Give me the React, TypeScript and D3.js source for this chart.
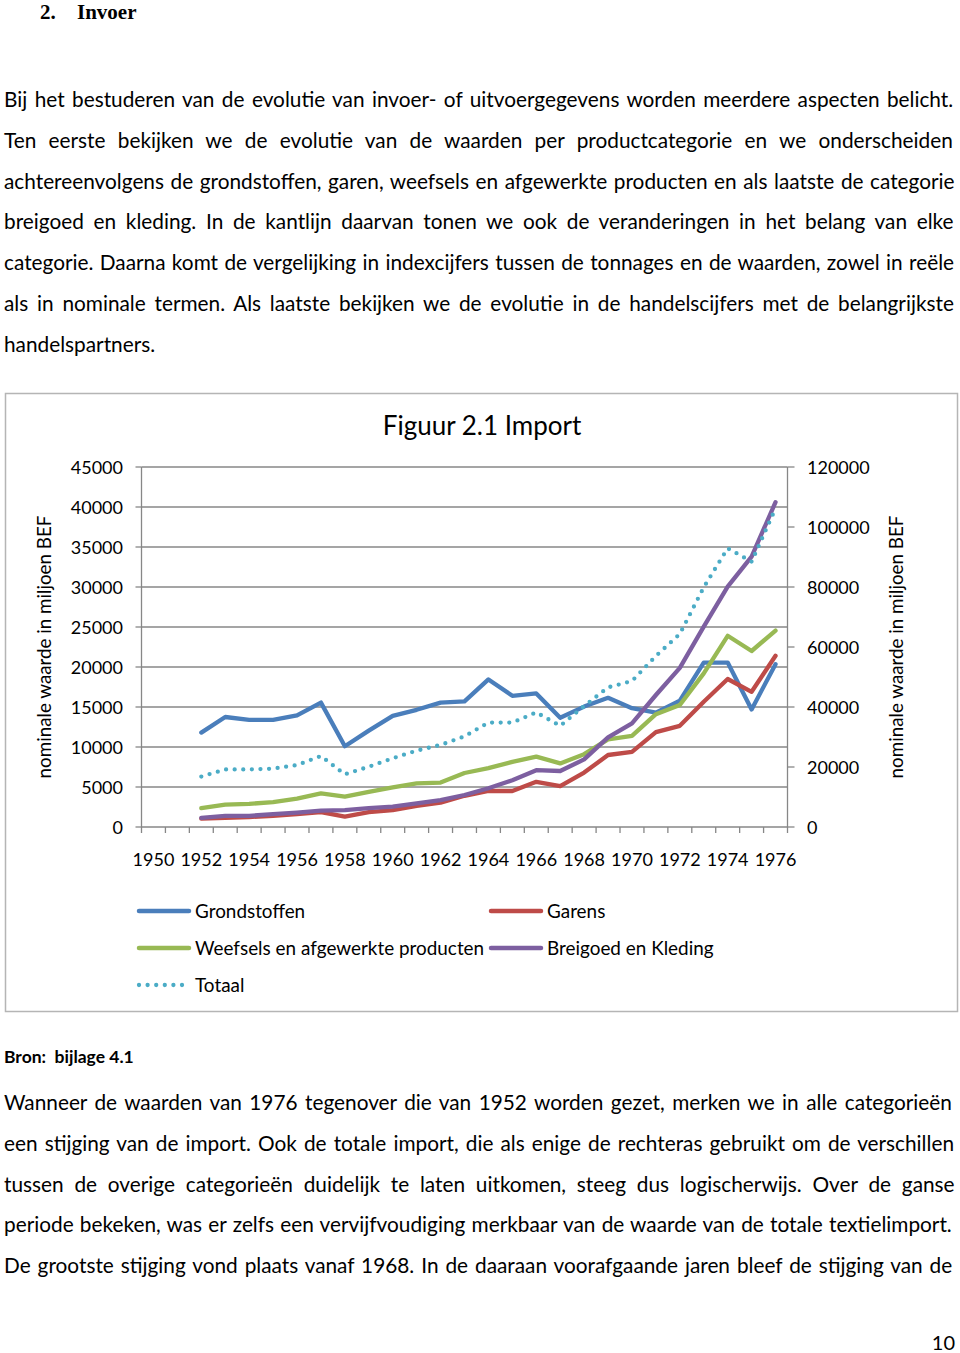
import React, { useMemo } from "react";
import * as d3 from "d3";

// ---------- DATA ----------
const categories = ["1950","1951","1952","1953","1954","1955","1956","1957","1958","1959","1960","1961","1962","1963","1964","1965","1966","1967","1968","1969","1970","1971","1972","1973","1974","1975","1976"];
const tickLabelYears = ["1950","1952","1954","1956","1958","1960","1962","1964","1966","1968","1970","1972","1974","1976"];
const dataYears = ["1952","1953","1954","1955","1956","1957","1958","1959","1960","1961","1962","1963","1964","1965","1966","1967","1968","1969","1970","1971","1972","1973","1974","1975","1976"];

const grondstoffen = [11800, 13750, 13400, 13400, 13950, 15550, 10100, 12050, 13900, 14650, 15550, 15700, 18450, 16400, 16700, 13650, 15050, 16150, 14850, 14300, 15800, 20550, 20550, 14700, 20350];
const garens = [1050, 1150, 1250, 1400, 1600, 1850, 1300, 1850, 2100, 2650, 3050, 3900, 4500, 4500, 5650, 5100, 6800, 9000, 9400, 11850, 12650, 15650, 18500, 16900, 21400];
const weefsels = [2350, 2800, 2900, 3100, 3550, 4200, 3800, 4400, 4950, 5450, 5550, 6750, 7350, 8150, 8800, 7950, 9100, 10950, 11400, 14100, 15250, 19200, 23900, 22000, 24550];
const breigoed = [1150, 1400, 1400, 1600, 1800, 2050, 2100, 2350, 2550, 2950, 3350, 4000, 4850, 5850, 7100, 7000, 8450, 11200, 12950, 16500, 19900, 25050, 30050, 33800, 40600];
const totaal = [16800, 19200, 19200, 19450, 20650, 23650, 17550, 20100, 22900, 25450, 27350, 30200, 34800, 34800, 38200, 33700, 40300, 46550, 48650, 57000, 64350, 79900, 92900, 88450, 106200];

const leftTicks = [0, 5000, 10000, 15000, 20000, 25000, 30000, 35000, 40000, 45000];
const rightTicks = [0, 20000, 40000, 60000, 80000, 100000, 120000];

const seriesNames = ["Grondstoffen", "Garens", "Weefsels en afgewerkte producten", "Breigoed en Kleding", "Totaal"];

const para1 = [
  "Bij het bestuderen van de evolutie van invoer- of uitvoergegevens worden meerdere aspecten belicht.",
  "Ten eerste bekijken we de evolutie van de waarden per productcategorie en we onderscheiden",
  "achtereenvolgens de grondstoffen, garen, weefsels en afgewerkte producten en als laatste de categorie",
  "breigoed en kleding. In de kantlijn daarvan tonen we ook de veranderingen in het belang van elke",
  "categorie. Daarna komt de vergelijking in indexcijfers tussen de tonnages en de waarden, zowel in reële",
  "als in nominale termen. Als laatste bekijken we de evolutie in de handelscijfers met de belangrijkste",
];
const para1Last = "handelspartners.";
const para2 = [
  "Wanneer de waarden van 1976 tegenover die van 1952 worden gezet, merken we in alle categorieën",
  "een stijging van de import. Ook de totale import, die als enige de rechteras gebruikt om de verschillen",
  "tussen de overige categorieën duidelijk te laten uitkomen, steeg dus logischerwijs. Over de ganse",
  "periode bekeken, was er zelfs een vervijfvoudiging merkbaar van de waarde van de totale textielimport.",
  "De grootste stijging vond plaats vanaf 1968. In de daaraan voorafgaande jaren bleef de stijging van de",
];

// ---------- STYLE ----------
const FONT = "Lato, 'Open Sans', sans-serif";
const BODY_SIZE = 20.8;
const colors = ["#4A7EBB", "#BE4B48", "#98B954", "#7D5FA0", "#4BACC6"];

let _ctx: CanvasRenderingContext2D | null = null;
function measure(text: string, font: string): number {
  if (!_ctx) {
    const c = document.createElement("canvas");
    _ctx = c.getContext("2d");
  }
  if (!_ctx) return text.length * 9;
  _ctx.font = font;
  return _ctx.measureText(text).width;
}

function wordSpacing(text: string, width: number, font: string): number {
  const spaces = (text.match(/ /g) || []).length;
  if (!spaces) return 0;
  const w = measure(text, font);
  return (width - w) / spaces;
}

export default function App() {
  const W = 960, H = 1353;
  const left = 141.5, right = 787.5, top = 467, bottom = 827;

  const x = d3.scaleBand<string>().domain(categories).range([left, right]).paddingInner(0).paddingOuter(0);
  const yL = d3.scaleLinear().domain([0, 45000]).range([bottom, top]);
  const yR = d3.scaleLinear().domain([0, 120000]).range([bottom, top]);
  const cx = (yr: string) => (x(yr) as number) + x.bandwidth() / 2;

  const lineL = d3.line<number>().x((_, i) => cx(dataYears[i])).y((d) => yL(d));
  const lineR = d3.line<number>().x((_, i) => cx(dataYears[i])).y((d) => yR(d));

  const bodyFont = `${BODY_SIZE}px Lato`;
  const textLeft = 4, textRight = 955;
  const spacings1 = useMemo(() => para1.map((t) => wordSpacing(t, textRight - textLeft, bodyFont)), []);
  const spacings2 = useMemo(() => para2.map((t) => wordSpacing(t, textRight - textLeft, bodyFont)), []);

  const leftSeries = [grondstoffen, garens, weefsels, breigoed];
  const gridColor = "#878787";

  const bandEdges = categories.map((c) => x(c) as number).concat([right]);

  return (
    <svg width={W} height={H} style={{ position: "absolute", left: 0, top: 0, background: "#fff" }} fontFamily={FONT}>
      <rect x={0} y={0} width={W} height={H} fill="#fff" />
      {/* Heading */}
      <text x={40} y={19} fontFamily="'Liberation Serif', serif" fontWeight="bold" fontSize={21}>2.</text>
      <text x={77} y={19} fontFamily="'Liberation Serif', serif" fontWeight="bold" fontSize={21}>Invoer</text>

      {/* Paragraph 1 */}
      {para1.map((t, i) => (
        <text key={"p1" + i} x={textLeft} y={107 + i * 40.8} fontSize={BODY_SIZE} style={{ wordSpacing: `${spacings1[i]}px` }}>{t}</text>
      ))}
      <text x={textLeft} y={107 + 6 * 40.8} fontSize={BODY_SIZE}>{para1Last}</text>

      {/* Chart frame */}
      <rect x={5.5} y={393.5} width={952} height={618} fill="#fff" stroke="#b5b5b5" strokeWidth={1.5} />
      <text x={482} y={435} textAnchor="middle" fontSize={26}>Figuur 2.1 Import</text>

      {/* Gridlines */}
      {leftTicks.map((t) => (
        <line key={"g" + t} x1={left} x2={right} y1={yL(t)} y2={yL(t)} stroke={gridColor} strokeWidth={1.3} />
      ))}
      {/* Axes */}
      <line x1={left} x2={left} y1={top} y2={bottom} stroke={gridColor} strokeWidth={1.3} />
      <line x1={right} x2={right} y1={top} y2={bottom} stroke={gridColor} strokeWidth={1.3} />
      {leftTicks.map((t) => (
        <line key={"lt" + t} x1={left - 6} x2={left} y1={yL(t)} y2={yL(t)} stroke={gridColor} strokeWidth={1.3} />
      ))}
      {rightTicks.map((t) => (
        <line key={"rt" + t} x1={right} x2={right + 7} y1={yR(t)} y2={yR(t)} stroke={gridColor} strokeWidth={1.3} />
      ))}
      {bandEdges.map((e, i) => (
        <line key={"xt" + i} x1={e} x2={e} y1={bottom} y2={bottom + 6} stroke={gridColor} strokeWidth={1.3} />
      ))}

      {/* Tick labels */}
      {leftTicks.map((t) => (
        <text key={"ll" + t} x={123} y={yL(t) + 6.5} textAnchor="end" fontSize={18}>{t}</text>
      ))}
      {rightTicks.map((t) => (
        <text key={"rl" + t} x={807} y={yR(t) + 6.5} fontSize={18}>{t}</text>
      ))}
      {tickLabelYears.map((yr) => (
        <text key={"xl" + yr} x={cx(yr)} y={866} textAnchor="middle" fontSize={18}>{yr}</text>
      ))}

      {/* Axis titles */}
      <text transform={`translate(51,647) rotate(-90)`} textAnchor="middle" fontSize={18.8}>nominale waarde in miljoen BEF</text>
      <text transform={`translate(903,647) rotate(-90)`} textAnchor="middle" fontSize={18.8}>nominale waarde in miljoen BEF</text>

      {/* Series */}
      {leftSeries.map((s, i) => (
        <path key={"s" + i} d={lineL(s) || ""} fill="none" stroke={colors[i]} strokeWidth={4.3} strokeLinejoin="round" strokeLinecap="round" />
      ))}
      <path d={lineR(totaal) || ""} fill="none" stroke={colors[4]} strokeWidth={4.3} strokeDasharray="0 8.6" strokeLinecap="round" />

      {/* Legend */}
      {[
        { i: 0, lx: 137, y: 911 },
        { i: 1, lx: 489, y: 911 },
        { i: 2, lx: 137, y: 948 },
        { i: 3, lx: 489, y: 948 },
        { i: 4, lx: 137, y: 985 },
      ].map(({ i, lx, y }) => (
        <g key={"lg" + i}>
          {i < 4 ? (
            <line x1={lx + 2} x2={lx + 52} y1={y} y2={y} stroke={colors[i]} strokeWidth={4.5} strokeLinecap="round" />
          ) : (
            <line x1={lx + 2} x2={lx + 50} y1={y} y2={y} stroke={colors[i]} strokeWidth={4.3} strokeDasharray="0 8.6" strokeLinecap="round" />
          )}
          <text x={lx + 58} y={y + 6.5} fontSize={18.9}>{seriesNames[i]}</text>
        </g>
      ))}

      {/* Source */}
      <text x={4} y={1063} fontSize={17.5} fontWeight="bold" style={{ whiteSpace: "pre" }}>{"Bron:  bijlage 4.1"}</text>

      {/* Paragraph 2 */}
      {para2.map((t, i) => (
        <text key={"p2" + i} x={textLeft} y={1110 + i * 40.8} fontSize={BODY_SIZE} style={{ wordSpacing: `${spacings2[i]}px` }}>{t}</text>
      ))}

      {/* Page number */}
      <text x={955} y={1350} textAnchor="end" fontSize={20}>10</text>
    </svg>
  );
}
